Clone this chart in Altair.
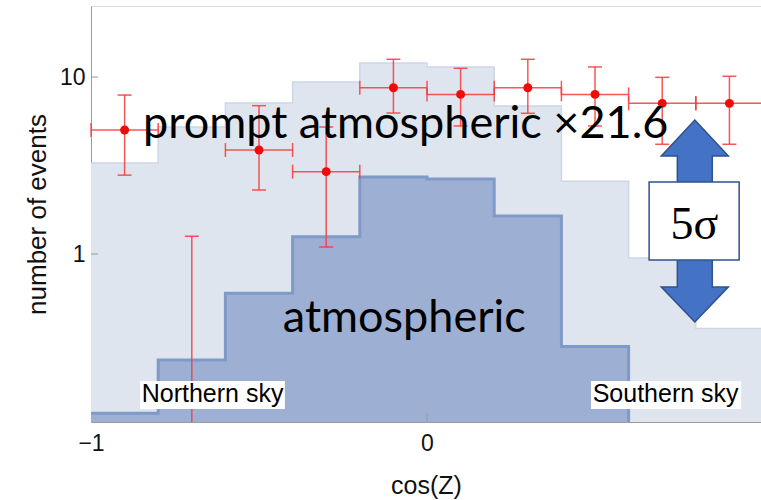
import altair as alt
import pandas as pd

# ---------------- data ----------------
bin_edges = [-1.0, -0.8, -0.6, -0.4, -0.2, 0.0, 0.2, 0.4, 0.6, 0.8, 1.0]
total_counts = [3.27, 5.22, 7.13, 9.37, 12.0, 11.4, 6.86, 2.58, 0.95, 0.38]   # atmospheric + prompt x21.6
atmos_counts = [0.126, 0.252, 0.60, 1.25, 2.72, 2.65, 1.64, 0.30]            # atmospheric, up to cos(Z)=0.6

data_x = [-0.9, -0.7, -0.5, -0.3, -0.1, 0.1, 0.3, 0.5, 0.7, 0.9]
data_y = [5.02, 0.0, 3.87, 2.92, 8.7, 7.98, 8.7, 7.98, 7.1, 7.1]
err_hi = [7.91, 1.26, 6.89, 5.22, 12.6, 11.2, 12.6, 11.4, 9.96, 10.1]
err_lo = [2.79, 0.0, 2.30, 1.095, 6.26, 5.29, 6.24, 5.29, 4.17, 4.17]

y_ticks = [1, 10]
x_ticks = [-1, 0]

# ---------------- layout ----------------
W, H = 670, 416
Y_MIN, Y_MAX = 0.1124, 25.2
X_MIN, X_MAX = -1.0, 0.994
HALF = 0.1

xs = alt.Scale(domain=[X_MIN, X_MAX], nice=False, zero=False)
ys = alt.Scale(type="log", domain=[Y_MIN, Y_MAX], nice=False)

axis_x = alt.Axis(values=x_ticks, format="~g", title="cos(Z)", ticks=False, tickSize=0, grid=False,
                  labelFontSize=23, titleFontSize=25, labelFont="Liberation Sans", titleFont="Liberation Sans",
                  labelColor="#111", titleColor="#111", titleFontWeight="normal", labelFlush=False,
                  labelPadding=10, titlePadding=18, domainColor="#9a9a9a", domainWidth=1)
axis_y = alt.Axis(values=y_ticks, format="~g", title="number of events", ticks=False, tickSize=0, grid=False,
                  labelFontSize=23, titleFontSize=26, labelFont="Liberation Sans", titleFont="Liberation Sans",
                  labelColor="#111", titleColor="#111", titleFontWeight="normal", labelFlush=False,
                  labelPadding=6, titlePadding=9, domainColor="#9a9a9a", domainWidth=1)


def X(f):
    return alt.X(f, type="quantitative", scale=xs, axis=axis_x)


def Y(f):
    return alt.Y(f, type="quantitative", scale=ys, axis=axis_y, stack=None)


# step data
tot_df = pd.DataFrame({"x": bin_edges, "y": total_counts + [total_counts[-1]], "o": range(len(bin_edges))})
n_at = len(atmos_counts)
atm_df = pd.DataFrame({"x": bin_edges[: n_at + 1], "y": atmos_counts + [atmos_counts[-1]], "o": range(n_at + 1)})
atm_line = pd.concat([atm_df, pd.DataFrame({"x": [bin_edges[n_at]], "y": [Y_MIN], "o": [n_at + 1]})])

pts = pd.DataFrame({"x": data_x, "y": data_y, "lo": err_lo, "hi": err_hi})
pts["lo_c"] = pts["lo"].where(pts["lo"] > 0, Y_MIN)
pts["xl"] = pts["x"] - HALF
pts["xr"] = pts["x"] + HALF
valid = pts[pts["y"] > 0]

RED_LINE = "#f53a3a"
RED_PT = "#f20a0a"

light_area = alt.Chart(tot_df).mark_area(interpolate="step-after", color="#dfe5ef", opacity=1, clip=True).encode(
    x=X("x"), y=Y("y"), y2=alt.value(H))
light_edge = alt.Chart(tot_df).mark_line(interpolate="step-after", color="#cdd6e7", strokeWidth=1.5, clip=True).encode(
    x=X("x"), y=Y("y"), order="o:Q")
dark_area = alt.Chart(atm_df).mark_area(interpolate="step-after", color="#9db0d3", opacity=1, clip=True).encode(
    x=X("x"), y=Y("y"), y2=alt.value(H))
dark_edge = alt.Chart(atm_line).mark_line(interpolate="step-after", color="#7f9ac7", strokeWidth=3, clip=True).encode(
    x=X("x"), y=Y("y"), order="o:Q")

ytick_df = pd.DataFrame({"v": y_ticks})
ytick_marks = alt.Chart(ytick_df).mark_rule(color="#9a9a9a", strokeWidth=1).encode(
    y=Y("v"), x=alt.value(0), x2=alt.value(7))
xtick_marks = alt.Chart(pd.DataFrame({"v": [0]})).mark_rule(color="#9a9a9a", strokeWidth=1).encode(
    x=X("v"), y=alt.value(H - 9), y2=alt.value(H))

vbars = alt.Chart(pts).mark_rule(color=RED_LINE, strokeWidth=1.5, opacity=0.85, clip=True).encode(
    x=X("x"), y=Y("lo_c"), y2=alt.Y2("hi"))
top_caps = alt.Chart(pts).mark_tick(orient="horizontal", color=RED_LINE, size=14, thickness=1.5, opacity=0.85).encode(
    x=X("x"), y=Y("hi"))
bot_caps = alt.Chart(valid).mark_tick(orient="horizontal", color=RED_LINE, size=14, thickness=1.5, opacity=0.85).encode(
    x=X("x"), y=Y("lo"))
hbars = alt.Chart(valid).mark_rule(color=RED_LINE, strokeWidth=1.5, opacity=0.85, clip=True).encode(
    x=X("xl"), x2=alt.X2("xr"), y=Y("y"))
lcaps = alt.Chart(valid).mark_tick(orient="vertical", color=RED_LINE, size=14, thickness=1.5, opacity=0.85).encode(
    x=X("xl"), y=Y("y"))
rcaps = alt.Chart(valid[valid["xr"] < X_MAX]).mark_tick(orient="vertical", color=RED_LINE, size=14, thickness=1.5, opacity=0.85).encode(
    x=X("xr"), y=Y("y"))
points = alt.Chart(valid).mark_point(filled=True, color=RED_PT, size=80, opacity=1).encode(
    x=X("x"), y=Y("y"))

# ---------------- annotations ----------------
big_text = alt.Chart(pd.DataFrame({"x": [-0.845, -0.429], "y": [4.52, 0.362],
                                   "t": ["prompt atmospheric \u00d721.6", "atmospheric"]})).mark_text(
    align="left", baseline="alphabetic", font="Lato", fontSize=45, color="#000").encode(
    x=X("x"), y=Y("y"), text="t:N")

sky_boxes = alt.Chart(pd.DataFrame({"x": [-0.854, 0.488], "x2": [-0.423, 0.935],
                                    "y": [0.1917, 0.1917], "y2": [0.133, 0.133]})).mark_rect(
    fill="white").encode(x=X("x"), x2="x2", y=Y("y"), y2="y2")
sky_text = alt.Chart(pd.DataFrame({"x": [-0.849, 0.493], "y": [0.146, 0.146],
                                   "t": ["Northern sky", "Southern sky"]})).mark_text(
    align="left", baseline="alphabetic", font="Liberation Sans", fontSize=25, color="#000").encode(
    x=X("x"), y=Y("y"), text="t:N")

ARROW = ("M0,-1 L0.332,-0.644 L0.173,-0.644 L0.173,0.652 L0.332,0.652 L0,1 "
         "L-0.332,0.652 L-0.173,0.652 L-0.173,-0.644 L-0.332,-0.644 Z")
arrow = alt.Chart(pd.DataFrame({"x": [0.797], "y": [1.536]})).mark_point(
    shape=ARROW, filled=True, fill="#4472c4", stroke="#2f528f", strokeWidth=1.5, opacity=1, size=202 * 202).encode(
    x=X("x"), y=Y("y"))
sig_box = alt.Chart(pd.DataFrame({"x": [0.661], "x2": [0.929], "y": [2.55], "y2": [0.925]})).mark_rect(
    fill="white", stroke="#2f528f", strokeWidth=1.5).encode(x=X("x"), x2="x2", y=Y("y"), y2="y2")
sig_text = alt.Chart(pd.DataFrame({"x": [0.796], "y": [1.215], "t": ["5\u03c3"]})).mark_text(
    align="center", baseline="alphabetic", font="Liberation Serif", fontSize=46, color="#000").encode(
    x=X("x"), y=Y("y"), text="t:N")

chart = alt.layer(
    light_area, light_edge, dark_area, dark_edge,
    ytick_marks, xtick_marks,
    vbars, top_caps, bot_caps, hbars, lcaps, rcaps, points,
    big_text, sky_boxes, sky_text, arrow, sig_box, sig_text,
).properties(
    width=W, height=H,
    padding={"left": 91, "top": 6, "right": 0, "bottom": 78},
    autosize=alt.AutoSizeParams(type="none"),
).configure_view(stroke="#d4d4d4", strokeWidth=1).configure(background="white")

chart.save("out.html", embed_options={"renderer": "svg", "actions": False})
